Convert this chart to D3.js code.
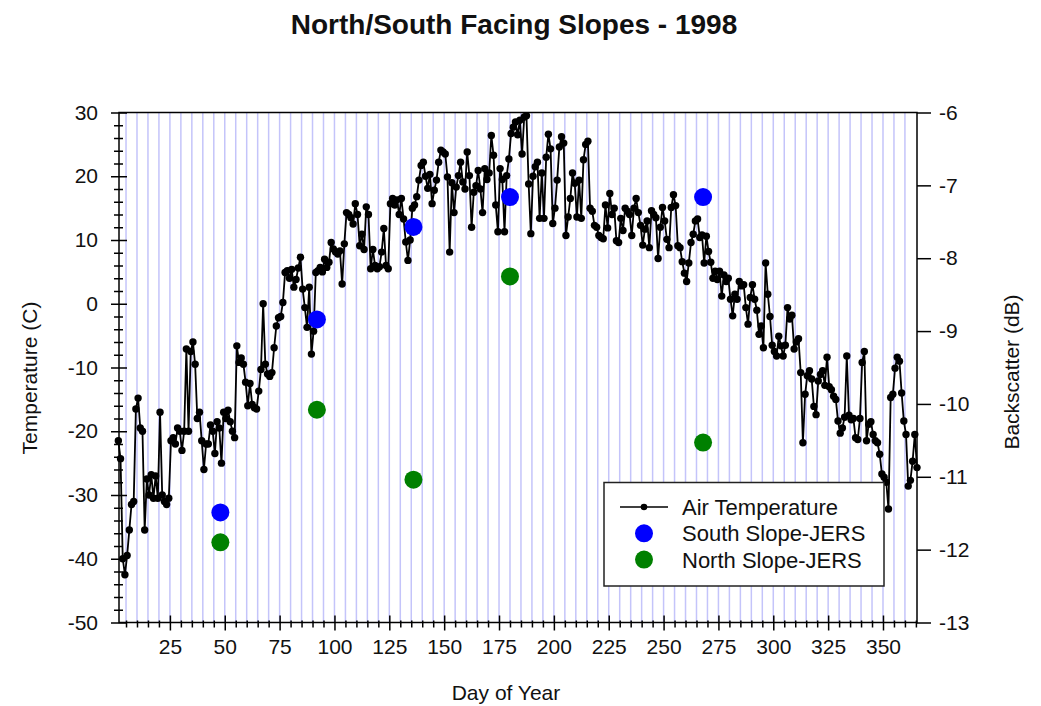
<!DOCTYPE html>
<html>
<head>
<meta charset="utf-8">
<script src="https://cdn.jsdelivr.net/npm/d3@7"></script>
<style>
  body { margin: 0; background: #fff; }
  text { font-family: "Liberation Sans", Arial, sans-serif; fill: #111; }
</style>
</head>
<body>
<svg id="chart" width="1041" height="706"></svg>
<script>
// daily air temperature (C), day 1..365
const airTemp = [
  -21.5, -24.3, -40, -42.5, -39.5, -35.5, -31.5, -31, -16.5, -14.8,
  -19.5, -20, -35.5, -27.5, -30, -26.8, -30.5, -27, -30.5, -17,
  -30, -31, -31.5, -30.5, -21.5, -21, -22, -19.5, -20, -23,
  -20, -7.1, -20, -7.5, -6, -9.5, -18, -17, -21.5, -26,
  -22, -22, -19, -20, -23.5, -18.5, -19.5, -25, -17, -18,
  -16.7, -18.5, -20, -21, -6.6, -9.2, -8.5, -9.5, -12.3, -16,
  -12.5, -15.8, -16.3, -16.5, -13.7, -10.3, 0, -9.5, -11, -11.4,
  -10.8, -6.9, -3.5, -2.2, -2, 0.2, 4.9, 5.2, 4, 5.4,
  2.6, 3.8, 5.6, 7.3, 2.3, -0.6, -3.7, 2.6, -7.9, -4.3,
  4.9, 5.2, 5.7, 5, 7, 5.7, 6.5, 9.6, 8.6, 8.1,
  7.8, 8.3, 3.1, 9.4, 14.3, 14, 13.5, 12.5, 15.7, 14,
  9.1, 10.9, 8.5, 15.2, 14, 5.5, 8.5, 6, 5.5, 5.8,
  8.1, 11.8, 6, 5.5, 15.7, 16.5, 15.5, 16.3, 14, 16.5,
  13.3, 9.7, 6.8, 10, 15, 15.5, 16.8, 19.4, 21.7, 22.2,
  20, 18.1, 20.3, 15.7, 17.8, 19.4, 22.2, 24.1, 23.8, 23.5,
  19.9, 8.1, 19, 14.3, 18.3, 20.1, 22.2, 19.1, 18, 23.8,
  20.1, 12, 17.5, 18.5, 20.9, 18, 14.3, 21.2, 19.5, 20.5,
  26.4, 23.3, 15.5, 11.3, 21.2, 19.5, 11.3, 20.1, 22.7, 26.7,
  27.7, 28.5, 26.5, 28.8, 23.5, 29.3, 29.5, 18.8, 11, 20,
  21.5, 22.2, 13.4, 20.5, 13.4, 23, 26.6, 24.3, 12.6, 15,
  19.4, 24.6, 26.2, 25.2, 10.7, 13.6, 16.5, 20.5, 18.9, 13.6,
  19.4, 13.4, 22.6, 25, 25.5, 15, 14.5, 12.3, 12, 10.7,
  10.4, 10.2, 15.5, 11.9, 17.3, 14, 15, 9.9, 9.6, 13.4,
  11.5, 15, 14.5, 14, 10.7, 15, 16.5, 14.3, 12.3, 9.2,
  11.7, 13, 8.8, 14.6, 14, 13.5, 7.1, 12, 15.1, 13,
  10.1, 8.8, 15.1, 17.1, 15.4, 9.1, 8.8, 6.6, 4.8, 3.5,
  6.4, 9.6, 10.9, 13, 13.3, 10.4, 10.8, 6.4, 10.6, 8.2,
  6.5, 4, 5.1, 3.8, 5.1, 1.2, 4.5, 3.5, 4, 0.7,
  -1.9, 1.5, 0.7, 3.5, 2.8, 3, -0.6, -3.2, 1, 3,
  0.7, -1, -4.8, -3.5, -6.9, 6.4, 1.5, -2, -6.5, -7.5,
  -8.2, -5.1, -6.6, -8.2, -6.5, -0.6, -2.4, -1.8, -7.1, -6,
  -5.5, -10.8, -21.8, -14.2, -11.3, -10.5, -11.8, -16.1, -17.4, -12.1,
  -11.1, -10.5, -12.8, -8.4, -13, -13.5, -14.5, -15, -18.4, -20.3,
  -19.5, -17.8, -8.2, -17.5, -18.2, -18, -21, -21.3, -18, -9.2,
  -7.5, -21.5, -18.9, -18.5, -20.5, -21.5, -21.8, -23.6, -26.7, -27.2,
  -28, -32.2, -14.7, -14.2, -10.1, -8.4, -9, -14, -18.4, -20.5,
  -28.6, -27.7, -24.7, -20.5, -25.7
];

// JERS backscatter (dB)
const jersDays = [48, 92, 136, 180, 268];
const southSlope = [-11.49, -8.84, -7.57, -7.16, -7.16];
const northSlope = [-11.90, -10.08, -11.04, -8.25, -10.53];

const tempTicks = [-50, -40, -30, -20, -10, 0, 10, 20, 30];
const dbTicks = [-13, -12, -11, -10, -9, -8, -7, -6];
const dayTicks = [25, 50, 75, 100, 125, 150, 175, 200, 225, 250, 275, 300, 325, 350];
const legendLabels = ["Air Temperature", "South Slope-JERS", "North Slope-JERS"];

const svg = d3.select("#chart");
const plotLeft = 119, plotRight = 917, plotTop = 112.5, plotBottom = 622.5;

const x = d3.scaleLinear().domain([1.8, 365.5]).range([plotLeft, plotRight]);
const yTemp = d3.scaleLinear().domain([-50, 30]).range([plotBottom, plotTop]);
const yDb = d3.scaleLinear().domain([-13, -6]).range([plotBottom, plotTop]);

const tempMinor = d3.range(-48, 30, 2).filter((d) => d % 10 !== 0);
const dayMinor = d3.range(5, 366, 5).filter((d) => d % 25 !== 0);
const gridDays = d3.range(5, 361, 5);
const plainNum = (d) => String(d); // ascii hyphen, no decimals

// vertical grid every 5 days
svg.append("g")
  .selectAll("line")
  .data(gridDays)
  .enter()
  .append("line")
  .attr("x1", (d) => x(d))
  .attr("x2", (d) => x(d))
  .attr("y1", plotTop)
  .attr("y2", plotBottom)
  .attr("stroke", "#c4c4fa")
  .attr("stroke-width", 1.5);

const temps = airTemp.map((t, i) => ({ day: i + 1.5, t })); // daily means at midday

svg.append("path")
  .datum(temps)
  .attr("fill", "none")
  .attr("stroke", "#000")
  .attr("stroke-width", 1.8)
  .attr("d", d3.line().x((d) => x(d.day)).y((d) => yTemp(d.t)));

svg.append("g")
  .selectAll("circle")
  .data(temps)
  .enter()
  .append("circle")
  .attr("cx", (d) => x(d.day))
  .attr("cy", (d) => yTemp(d.t))
  .attr("r", 3.7)
  .attr("fill", "#000");

const drawJers = (values, color) => {
  svg.append("g")
    .selectAll("circle")
    .data(values)
    .enter()
    .append("circle")
    .attr("cx", (d, i) => x(jersDays[i]))
    .attr("cy", (d) => yDb(d))
    .attr("r", 9)
    .attr("fill", color);
};
drawJers(southSlope, "#0000ff");
drawJers(northSlope, "#008000");

// axes
const styleAxis = (g) => {
  g.selectAll("line").attr("stroke", "#000").attr("stroke-width", 1.5);
  g.selectAll("text").style("font-size", "21px").attr("fill", "#111");
  g.select(".domain").remove();
};

const leftAxis = svg.append("g")
  .attr("transform", `translate(${plotLeft},0)`)
  .call(d3.axisLeft(yTemp).tickValues(tempTicks).tickFormat(plainNum).tickSize(8).tickPadding(13).tickSizeOuter(0))
  .call(styleAxis);
leftAxis.selectAll(".tick line").attr("x1", 8);

const leftMinor = svg.append("g")
  .attr("transform", `translate(${plotLeft},0)`)
  .call(d3.axisLeft(yTemp).tickValues(tempMinor).tickSize(5).tickFormat(""))
  .call(styleAxis);
leftMinor.selectAll(".tick line").attr("x1", 4);

const bottomAxis = svg.append("g")
  .attr("transform", `translate(0,${plotBottom})`)
  .call(d3.axisBottom(x).tickValues(dayTicks).tickFormat(plainNum).tickSize(8).tickPadding(9).tickSizeOuter(0))
  .call(styleAxis);
bottomAxis.selectAll(".tick line").attr("y1", -7);

const bottomMinor = svg.append("g")
  .attr("transform", `translate(0,${plotBottom})`)
  .call(d3.axisBottom(x).tickValues(dayMinor).tickSize(5).tickFormat(""))
  .call(styleAxis);
bottomMinor.selectAll(".tick line").attr("y1", -2);

svg.append("g")
  .attr("transform", `translate(${plotRight},0)`)
  .call(d3.axisRight(yDb).tickValues(dbTicks).tickFormat(plainNum).tickSize(14).tickPadding(8).tickSizeOuter(0))
  .call(styleAxis);

// frame
svg.append("path")
  .attr("d", `M${plotLeft},${plotTop}H${plotRight}V${plotBottom}H${plotLeft}Z`)
  .attr("fill", "none")
  .attr("stroke", "#000")
  .attr("stroke-width", 1.5);

// titles
svg.append("text")
  .attr("x", 514)
  .attr("y", 34)
  .attr("text-anchor", "middle")
  .style("font-size", "28px")
  .style("font-weight", "bold")
  .text("North/South Facing Slopes - 1998");

svg.append("text")
  .attr("x", 506)
  .attr("y", 700)
  .attr("text-anchor", "middle")
  .style("font-size", "21px")
  .text("Day of Year");

svg.append("text")
  .attr("transform", "translate(37,378) rotate(-90)")
  .attr("text-anchor", "middle")
  .style("font-size", "21px")
  .text("Temperature (C)");

svg.append("text")
  .attr("transform", "translate(1019,372) rotate(-90)")
  .attr("text-anchor", "middle")
  .style("font-size", "21px")
  .text("Backscatter (dB)");

// legend
const legend = svg.append("g").attr("transform", "translate(604,482.5)");
legend.append("rect")
  .attr("width", 280)
  .attr("height", 103.5)
  .attr("fill", "#fff")
  .attr("stroke", "#222")
  .attr("stroke-width", 1.5);

const rowY = (i) => 24.5 + i * 26.3;
legend.append("line")
  .attr("x1", 16).attr("x2", 64)
  .attr("y1", rowY(0)).attr("y2", rowY(0))
  .attr("stroke", "#000").attr("stroke-width", 1.6);
legend.append("circle").attr("cx", 40).attr("cy", rowY(0)).attr("r", 3.3).attr("fill", "#000");
legend.append("circle").attr("cx", 40).attr("cy", rowY(1)).attr("r", 9).attr("fill", "#0000ff");
legend.append("circle").attr("cx", 40).attr("cy", rowY(2)).attr("r", 9).attr("fill", "#008000");

legend.selectAll(".label")
  .data(legendLabels)
  .enter()
  .append("text")
  .attr("class", "label")
  .attr("x", 78)
  .attr("y", (d, i) => rowY(i))
  .attr("dy", "0.36em")
  .style("font-size", "22px")
  .attr("fill", "#222")
  .text((d) => d);
</script>
</body>
</html>
